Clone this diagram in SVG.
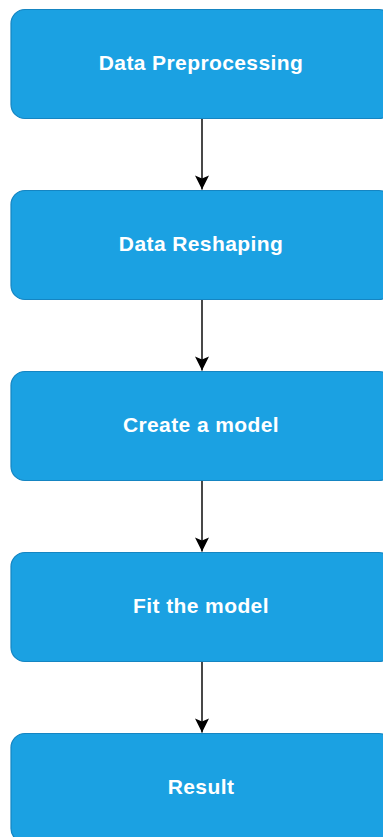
<svg xmlns="http://www.w3.org/2000/svg" width="383" height="837" viewBox="0 0 383 837">
  <style>
    .box { fill: #1ba1e2; stroke: #1585c2; stroke-width: 1.2; }
    .label { fill: #ffffff; font-family: "Liberation Sans", Arial, sans-serif; font-weight: bold; font-size: 21px; letter-spacing: 0.4px; text-anchor: middle; }
    .edge { fill: none; stroke: #1a1a1a; stroke-width: 1.6; }
  </style>
  <defs>
    <marker id="arrow" viewBox="0 0 16 16" refX="15" refY="8" markerWidth="16" markerHeight="16" markerUnits="userSpaceOnUse" orient="auto">
      <path d="M1,1 L15,8 L1,15 L4,8 Z" fill="#000000"/>
    </marker>
  </defs>
  <rect width="383" height="837" fill="#ffffff"/>

  <g id="connectors">
    <line class="edge" x1="202" y1="118.5" x2="202" y2="189.5" marker-end="url(#arrow)"/>
    <line class="edge" x1="202" y1="299.5" x2="202" y2="370.5" marker-end="url(#arrow)"/>
    <line class="edge" x1="202" y1="480.5" x2="202" y2="551.5" marker-end="url(#arrow)"/>
    <line class="edge" x1="202" y1="661.5" x2="202" y2="732.5" marker-end="url(#arrow)"/>
  </g>

  <g id="node-preprocessing">
    <rect class="box" x="11" y="9.5" width="382" height="109" rx="14" ry="14"/>
    <text class="label" x="201" y="69.5">Data Preprocessing</text>
  </g>
  <g id="node-reshaping">
    <rect class="box" x="11" y="190.5" width="382" height="109" rx="14" ry="14"/>
    <text class="label" x="201" y="250.5">Data Reshaping</text>
  </g>
  <g id="node-create">
    <rect class="box" x="11" y="371.5" width="382" height="109" rx="14" ry="14"/>
    <text class="label" x="201" y="431.5">Create a model</text>
  </g>
  <g id="node-fit">
    <rect class="box" x="11" y="552.5" width="382" height="109" rx="14" ry="14"/>
    <text class="label" x="201" y="612.5">Fit the model</text>
  </g>
  <g id="node-result">
    <rect class="box" x="11" y="733.5" width="382" height="109" rx="14" ry="14"/>
    <text class="label" x="201" y="793.5">Result</text>
  </g>
</svg>
